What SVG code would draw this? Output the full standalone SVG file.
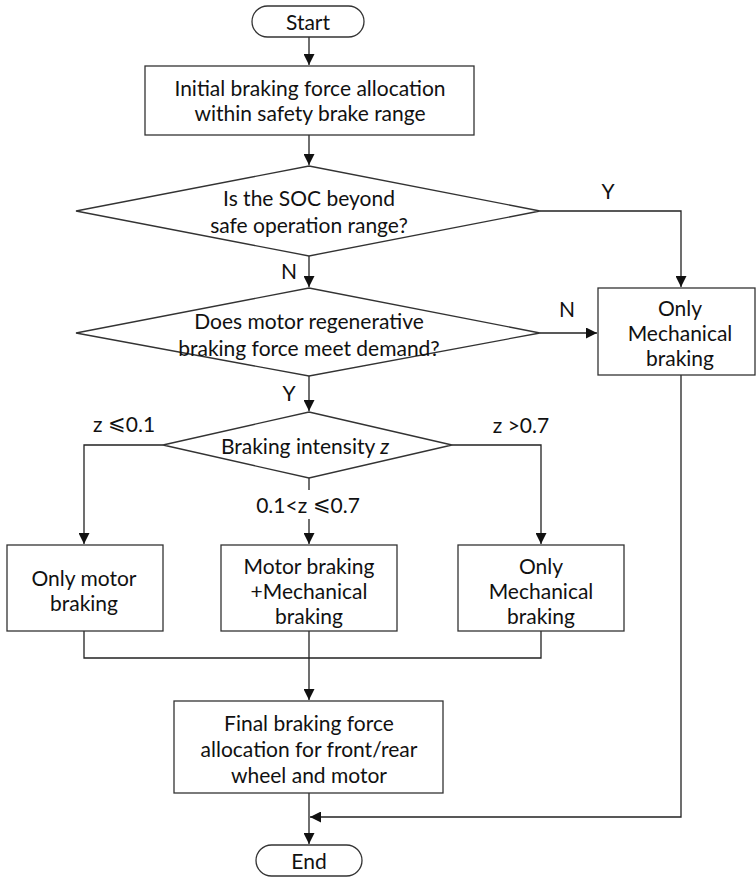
<svg xmlns="http://www.w3.org/2000/svg" width="756" height="877" viewBox="0 0 756 877">
<style>
.s{fill:#fff;stroke:#333;stroke-width:1.3}
.c{fill:none;stroke:#222;stroke-width:1.3}
text{font-family:Lato,"Open Sans","Liberation Sans",sans-serif;font-size:21px;fill:#111;text-anchor:middle;dominant-baseline:central}
.m{font-family:"DejaVu Sans","Noto Sans",sans-serif;font-weight:300}
</style>
<defs>
<marker id="a" viewBox="0 0 10 10" refX="10" refY="5" markerWidth="11" markerHeight="11" markerUnits="userSpaceOnUse" orient="auto"><path d="M0,0L10,5L0,10z" fill="#111"/></marker>
</defs>
<rect width="756" height="877" fill="#fff"/>
<g id="connectors">
<path class="c" d="M309,37V65" marker-end="url(#a)"/>
<path class="c" d="M309,135V165" marker-end="url(#a)"/>
<path class="c" d="M540,211H681V287" marker-end="url(#a)"/>
<path class="c" d="M309,256V287" marker-end="url(#a)"/>
<path class="c" d="M540,333H597" marker-end="url(#a)"/>
<path class="c" d="M309,376V411" marker-end="url(#a)"/>
<path class="c" d="M163,445H84V544" marker-end="url(#a)"/>
<path class="c" d="M452,445H541V544" marker-end="url(#a)"/>
<path class="c" d="M309,478V490"/>
<path class="c" d="M309,519V544" marker-end="url(#a)"/>
<path class="c" d="M84,631V658H541V631M309,631V700" marker-end="url(#a)"/>
<path class="c" d="M309,793V844" marker-end="url(#a)"/>
<path class="c" d="M681,375V817H310" marker-end="url(#a)"/>
</g>
<g id="start"><rect class="s" x="252" y="6" width="112" height="31" rx="15.5"/><text x="308" y="21">Start</text></g>
<g id="init"><rect class="s" x="145" y="66" width="329" height="69"/><text x="310" y="87">Initial braking force allocation</text><text x="310" y="112">within safety brake range</text></g>
<g id="soc"><path class="s" d="M309,166L540,211L309,256L76,211Z"/><text x="309" y="197">Is the SOC beyond</text><text x="309" y="224">safe operation range?</text></g>
<g id="regen"><path class="s" d="M309,288L540,333L309,376L76,333Z"/><text x="309" y="320">Does motor regenerative</text><text x="309" y="347">braking force meet demand?</text></g>
<g id="mech1"><rect class="s" x="598" y="288" width="157" height="87"/><text x="680" y="307">Only</text><text x="680" y="332">Mechanical</text><text x="680" y="357">braking</text></g>
<g id="intensity"><path class="s" d="M309,412L452,445L309,478L163,445Z"/><text x="305" y="445">Braking intensity <tspan font-style="italic">z</tspan></text></g>
<g id="motor"><rect class="s" x="7" y="545" width="156" height="86"/><text x="84" y="577">Only motor</text><text x="84" y="602">braking</text></g>
<g id="both"><rect class="s" x="221" y="545" width="176" height="86"/><text x="309" y="565">Motor braking</text><text x="309" y="590">+Mechanical</text><text x="309" y="615">braking</text></g>
<g id="mech2"><rect class="s" x="458" y="545" width="166" height="86"/><text x="541" y="565">Only</text><text x="541" y="590">Mechanical</text><text x="541" y="615">braking</text></g>
<g id="final"><rect class="s" x="174" y="701" width="269" height="92"/><text x="309" y="722">Final braking force</text><text x="309" y="748">allocation for front/rear</text><text x="309" y="774">wheel and motor</text></g>
<g id="end"><rect class="s" x="256" y="845" width="106" height="31" rx="15.5"/><text x="309" y="860">End</text></g>
<g id="labels">
<text x="608" y="190">Y</text>
<text x="289" y="270">N</text>
<text x="567" y="308">N</text>
<text x="289" y="392">Y</text>
<text x="124" y="423">z <tspan class="m">⩽</tspan>0.1</text>
<text x="521" y="424">z &gt;0.7</text>
<text x="308" y="504">0.1&lt;z <tspan class="m">⩽</tspan>0.7</text>
</g>
</svg>
